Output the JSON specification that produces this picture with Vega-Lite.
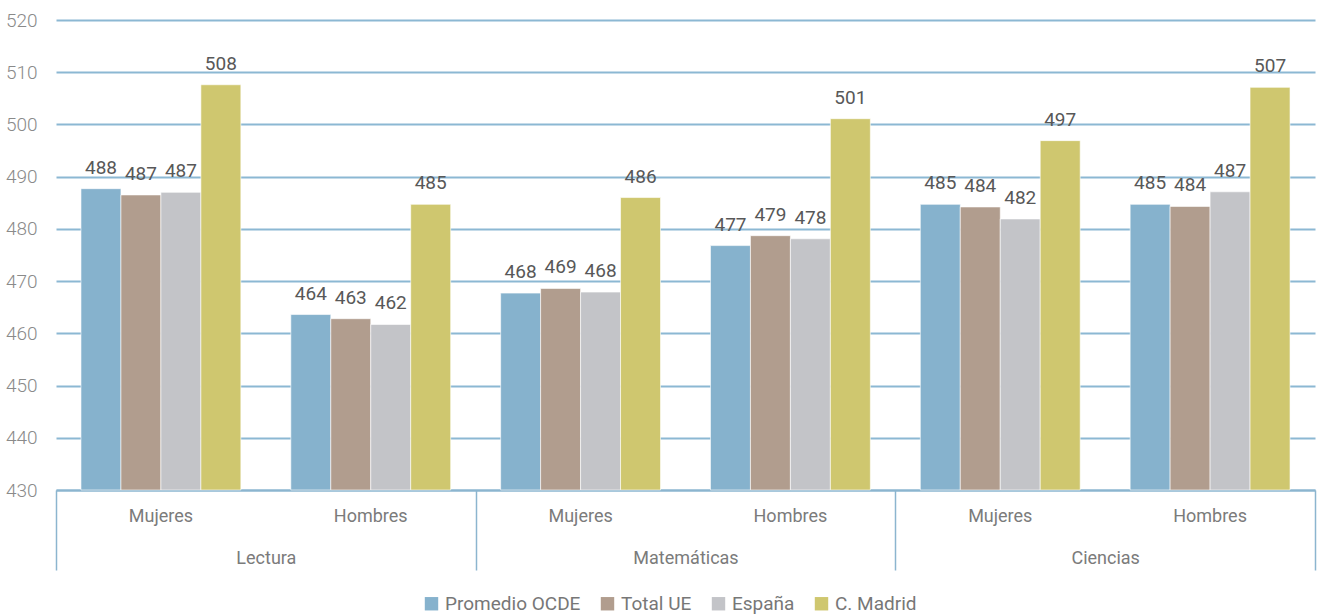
{
  "$schema": "https://vega.github.io/schema/vega-lite/v6.json",
  "width": 1259,
  "height": 470,
  "autosize": {"type": "none"},
  "padding": {"left": 56, "top": 20, "right": 3, "bottom": 126},
  "background": "white",
  "config": {
    "view": {"stroke": null},
    "font": "Roboto, sans-serif"
  },
  "data": {
    "values": [
      {"cat": "Lectura|Mujeres", "asignatura": "Lectura", "serie": "Promedio OCDE", "valor": 487.7},
      {"cat": "Lectura|Mujeres", "asignatura": "Lectura", "serie": "Total UE", "valor": 486.5},
      {"cat": "Lectura|Mujeres", "asignatura": "Lectura", "serie": "España", "valor": 487.0},
      {"cat": "Lectura|Mujeres", "asignatura": "Lectura", "serie": "C. Madrid", "valor": 507.6},
      {"cat": "Lectura|Hombres", "asignatura": "Lectura", "serie": "Promedio OCDE", "valor": 463.6},
      {"cat": "Lectura|Hombres", "asignatura": "Lectura", "serie": "Total UE", "valor": 462.8},
      {"cat": "Lectura|Hombres", "asignatura": "Lectura", "serie": "España", "valor": 461.7},
      {"cat": "Lectura|Hombres", "asignatura": "Lectura", "serie": "C. Madrid", "valor": 484.7},
      {"cat": "Matemáticas|Mujeres", "asignatura": "Matemáticas", "serie": "Promedio OCDE", "valor": 467.7},
      {"cat": "Matemáticas|Mujeres", "asignatura": "Matemáticas", "serie": "Total UE", "valor": 468.6},
      {"cat": "Matemáticas|Mujeres", "asignatura": "Matemáticas", "serie": "España", "valor": 467.9},
      {"cat": "Matemáticas|Mujeres", "asignatura": "Matemáticas", "serie": "C. Madrid", "valor": 486.0},
      {"cat": "Matemáticas|Hombres", "asignatura": "Matemáticas", "serie": "Promedio OCDE", "valor": 476.8},
      {"cat": "Matemáticas|Hombres", "asignatura": "Matemáticas", "serie": "Total UE", "valor": 478.7},
      {"cat": "Matemáticas|Hombres", "asignatura": "Matemáticas", "serie": "España", "valor": 478.1},
      {"cat": "Matemáticas|Hombres", "asignatura": "Matemáticas", "serie": "C. Madrid", "valor": 501.1},
      {"cat": "Ciencias|Mujeres", "asignatura": "Ciencias", "serie": "Promedio OCDE", "valor": 484.7},
      {"cat": "Ciencias|Mujeres", "asignatura": "Ciencias", "serie": "Total UE", "valor": 484.2},
      {"cat": "Ciencias|Mujeres", "asignatura": "Ciencias", "serie": "España", "valor": 481.9},
      {"cat": "Ciencias|Mujeres", "asignatura": "Ciencias", "serie": "C. Madrid", "valor": 496.9},
      {"cat": "Ciencias|Hombres", "asignatura": "Ciencias", "serie": "Promedio OCDE", "valor": 484.7},
      {"cat": "Ciencias|Hombres", "asignatura": "Ciencias", "serie": "Total UE", "valor": 484.3},
      {"cat": "Ciencias|Hombres", "asignatura": "Ciencias", "serie": "España", "valor": 487.1},
      {"cat": "Ciencias|Hombres", "asignatura": "Ciencias", "serie": "C. Madrid", "valor": 507.1}
    ]
  },
  "layer": [
    {
      "encoding": {
        "x": {
          "field": "cat", "type": "nominal",
          "scale": {"domain": ["Lectura|Mujeres", "Lectura|Hombres", "Matemáticas|Mujeres", "Matemáticas|Hombres", "Ciencias|Mujeres", "Ciencias|Hombres"], "paddingInner": 0, "paddingOuter": 0},
          "axis": {
            "title": null, "orient": "bottom", "labelExpr": "split(datum.label, '|')[1]",
            "domain": true, "domainColor": "#8cb5cf", "domainWidth": 2,
            "ticks": false, "grid": false, "labelAngle": 0,
            "labelPadding": 17, "labelFontSize": 18, "labelColor": "#7b7b7b"
          }
        },
        "xOffset": {
          "field": "serie", "type": "nominal",
          "scale": {"domain": ["Promedio OCDE", "Total UE", "España", "C. Madrid"], "paddingInner": 0, "paddingOuter": 0.625}
        },
        "y": {
          "field": "valor", "type": "quantitative",
          "scale": {"domain": [430, 520], "nice": false, "zero": false},
          "axis": {
            "title": null, "values": [430, 440, 450, 460, 470, 480, 490, 500, 510, 520],
            "domain": false, "ticks": false, "grid": true, "gridColor": "#8cb8d3", "gridWidth": 2,
            "labelPadding": 19, "labelFontSize": 19, "labelFontWeight": 300, "labelColor": "#8a8a8a"
          }
        }
      },
      "layer": [
        {
          "mark": {"type": "bar", "stroke": "white", "strokeWidth": 0.6},
          "encoding": {
            "y2": {"datum": 430},
            "color": {
              "field": "serie", "type": "nominal",
              "scale": {"domain": ["Promedio OCDE", "Total UE", "España", "C. Madrid"], "range": ["#86b2cd", "#b19d8e", "#c3c4c8", "#cfc76f"]},
              "legend": {
                "title": null, "orient": "none", "direction": "horizontal", "legendX": 366, "legendY": 574,
                "symbolType": "square", "symbolSize": 180, "symbolStrokeWidth": 0,
                "labelFontSize": 19, "labelColor": "#777777", "columnPadding": 17, "labelOffset": 4
              }
            }
          }
        },
        {
          "mark": {"type": "text", "dy": -15, "baseline": "alphabetic", "fontSize": 19, "fontWeight": "normal", "color": "#585858"},
          "encoding": {
            "text": {"field": "valor", "type": "quantitative", "format": ".0f"}
          }
        }
      ]
    },
    {
      "mark": {"type": "text", "opacity": 0},
      "encoding": {
        "x": {
          "field": "asignatura", "type": "nominal",
          "scale": {"domain": ["Lectura", "Matemáticas", "Ciencias"], "paddingInner": 0, "paddingOuter": 0},
          "axis": {
            "title": null, "orient": "bottom", "domain": false, "ticks": true, "tickBand": "extent",
            "tickSize": 80, "tickColor": "#8cb5cf", "tickWidth": 1.5, "labelAngle": 0,
            "labelPadding": -21, "labelFontSize": 18, "labelColor": "#7b7b7b", "grid": false
          }
        },
        "text": {"value": ""}
      }
    }
  ],
  "resolve": {"scale": {"x": "independent"}, "axis": {"x": "independent"}}
}
